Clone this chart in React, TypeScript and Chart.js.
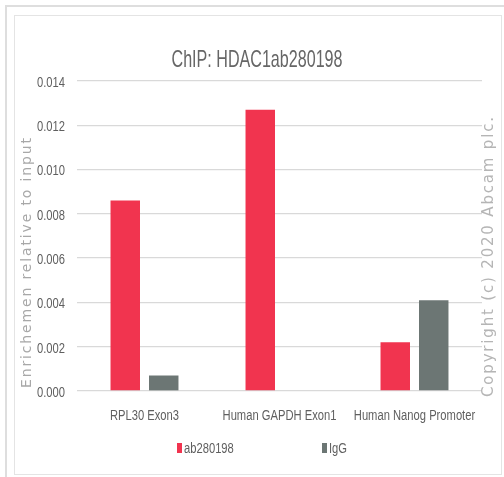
import React, { useEffect, useRef } from "react";
import { Chart, registerables } from "chart.js";

Chart.register(...registerables);

// ---- data ----
const categories = ["RPL30 Exon3", "Human GAPDH Exon1", "Human Nanog Promoter"];
const seriesNames = ["ab280198", "IgG"];
const ab280198Values = [0.0086, 0.0127, 0.0022];
const igGValues = [0.0007, 0, 0.0041];
const yTickValues = [0, 0.002, 0.004, 0.006, 0.008, 0.01, 0.012, 0.014];

const chartTitle = "ChIP: HDAC1ab280198";
const yAxisTitle = "Enrichemen relative to input";
const copyrightNote = "Copyright (c) 2020 Abcam plc.";

const RED = "#f1344f";
const GREY = "#6c7674";
const SANS = "'Liberation Sans', Arial, sans-serif";
const WIDE = "'DejaVu Sans', Verdana, sans-serif";
const SQUEEZE = 0.8; // horizontal condensing of the narrow labels

// Text drawn narrower than the font's natural width.
function condensedText(
  ctx: CanvasRenderingContext2D,
  text: string,
  x: number,
  y: number,
  align: CanvasTextAlign,
  font: string,
  color: string,
  squeeze: number
) {
  ctx.save();
  ctx.font = font;
  ctx.fillStyle = color;
  ctx.textAlign = align;
  ctx.textBaseline = "middle";
  ctx.translate(x, y);
  ctx.scale(squeeze, 1);
  ctx.fillText(text, 0, 0);
  ctx.restore();
}

// Text with its letters spread out to fill a given length.
function spacedText(
  ctx: CanvasRenderingContext2D,
  text: string,
  x: number,
  y: number,
  rotation: number,
  font: string,
  color: string,
  length: number
) {
  ctx.save();
  ctx.font = font;
  (ctx as any).letterSpacing = "0px";
  const w = ctx.measureText(text).width;
  const spacing = Math.max(0, (length - w) / (text.length - 1));
  (ctx as any).letterSpacing = spacing + "px";
  ctx.translate(x, y);
  ctx.rotate(rotation);
  ctx.fillStyle = color;
  ctx.textAlign = "center";
  ctx.textBaseline = "middle";
  ctx.fillText(text, spacing / 2, 0);
  ctx.restore();
}

const decorations = {
  id: "decorations",
  afterDraw(chart: Chart) {
    const ctx = chart.ctx;
    const area = chart.chartArea;
    const xs = chart.scales.x;
    const ys = chart.scales.y;

    // title, condensed to its box
    ctx.save();
    ctx.font = `24px ${SANS}`;
    const tw = ctx.measureText(chartTitle).width;
    ctx.translate(257, 60);
    ctx.scale(171 / tw, 1);
    ctx.fillStyle = "#666666";
    ctx.textAlign = "center";
    ctx.textBaseline = "middle";
    ctx.fillText(chartTitle, 0, 0);
    ctx.restore();

    // value labels on the left axis
    yTickValues.forEach((v) => {
      condensedText(ctx, v.toFixed(3), area.left - 12, ys.getPixelForValue(v) + 2, "right", `14px ${SANS}`, "#5f5f5f", SQUEEZE);
    });

    // category labels under the bars
    categories.forEach((c, i) => {
      condensedText(ctx, c, xs.getPixelForValue(i), area.bottom + 25, "center", `14px ${SANS}`, "#5f5f5f", SQUEEZE);
    });

    // vertical axis caption and side note
    spacedText(ctx, yAxisTitle, area.left - 50, 263, -Math.PI / 2, `14px ${WIDE}`, "#a8a8a8", 250);
    spacedText(ctx, copyrightNote, area.right + 7, 257, -Math.PI / 2, `15px ${WIDE}`, "#b5b5b5", 280);

    // legend
    const datasets = chart.data.datasets;
    datasets.forEach((ds, i) => {
      const bx = area.left + 100 + i * 145;
      ctx.fillStyle = ds.backgroundColor as string;
      ctx.fillRect(bx, 443, 5, 10);
      condensedText(ctx, String(ds.label), bx + 7, 449, "left", `14px ${SANS}`, "#5f5f5f", SQUEEZE);
    });
  },
};

export default function App() {
  const ref = useRef<HTMLCanvasElement | null>(null);

  useEffect(() => {
    if (!ref.current) return;
    const chart = new Chart(ref.current, {
      type: "bar",
      data: {
        labels: categories,
        datasets: [
          {
            label: seriesNames[0],
            data: ab280198Values,
            backgroundColor: RED,
            barPercentage: 0.766,
            categoryPercentage: 0.57,
          },
          {
            label: seriesNames[1],
            data: igGValues,
            backgroundColor: GREY,
            barPercentage: 0.766,
            categoryPercentage: 0.57,
          },
        ],
      },
      options: {
        responsive: false,
        devicePixelRatio: 1,
        animation: false,
        layout: { padding: { top: 81, right: 22, bottom: 26, left: 0 } },
        plugins: {
          legend: { display: false },
          title: { display: false },
          tooltip: { enabled: false },
        },
        scales: {
          x: {
            grid: { display: false, drawTicks: false },
            border: { display: false },
            ticks: { display: false },
            afterFit: (s: any) => {
              s.height = 60;
            },
          },
          y: {
            min: 0,
            max: 0.014,
            grid: { color: "#d9d9d9", lineWidth: 1.3, drawTicks: false },
            border: { display: false },
            afterBuildTicks: (s: any) => {
              s.ticks = yTickValues.map((v) => ({ value: v }));
            },
            ticks: { display: false },
            afterFit: (s: any) => {
              s.width = 77;
            },
          },
        },
      },
      plugins: [decorations],
    });
    return () => chart.destroy();
  }, []);

  return (
    <div
      style={{
        position: "fixed",
        left: 0,
        top: 0,
        width: 504,
        height: 477,
        background: "#fff",
        overflow: "hidden",
      }}
    >
      <div
        style={{
          position: "absolute",
          left: 5,
          top: 5,
          width: 520,
          height: 500,
          border: "2px solid #dedede",
        }}
      />
      <div
        style={{
          position: "absolute",
          left: 14,
          top: 15,
          width: 488,
          height: 460,
          boxSizing: "border-box",
          border: "1px solid #e4e4e4",
        }}
      />
      <canvas
        ref={ref}
        width={504}
        height={477}
        style={{ position: "absolute", left: 0, top: 0, width: 504, height: 477 }}
      />
    </div>
  );
}
